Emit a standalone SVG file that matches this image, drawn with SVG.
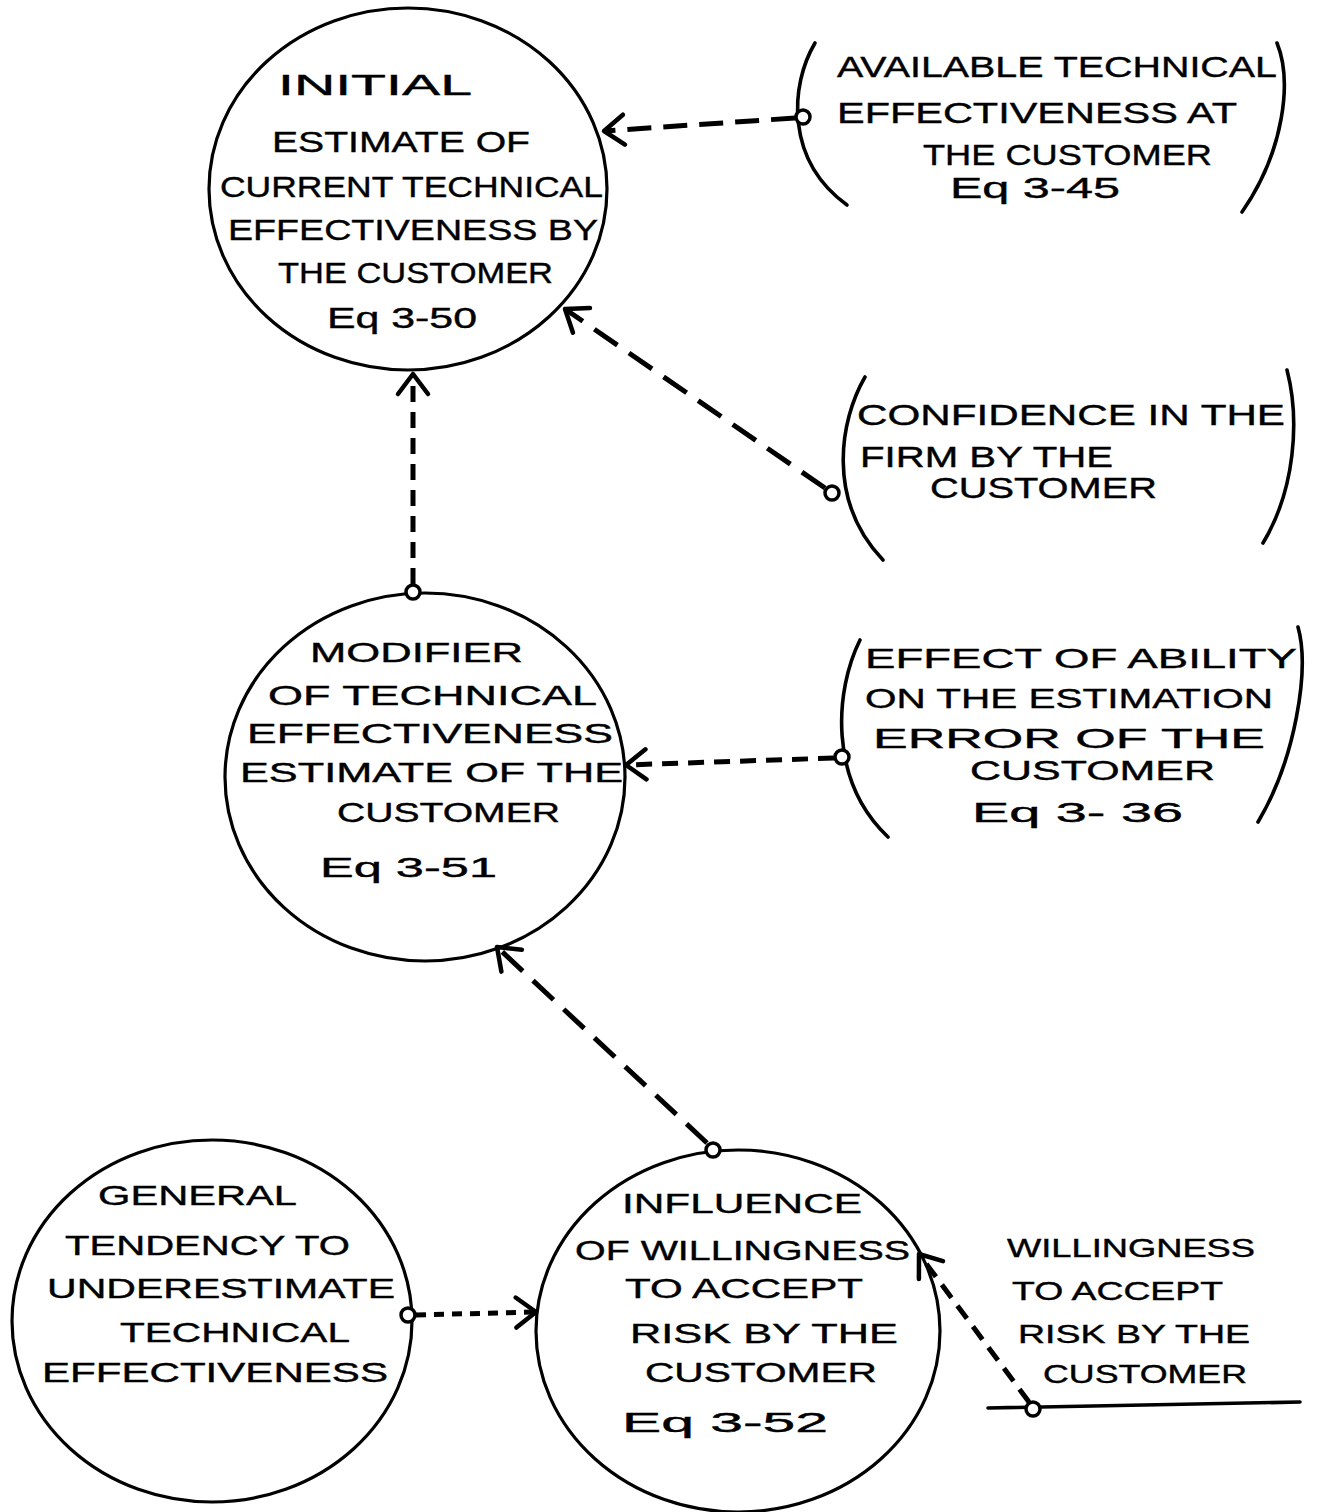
<svg xmlns="http://www.w3.org/2000/svg" width="1318" height="1512" viewBox="0 0 1318 1512">
<style>
.node{fill:none;stroke:#000;stroke-width:3.2}
.br{fill:none;stroke:#000;stroke-width:3.6;stroke-linecap:round}
.t{font-family:"Liberation Sans","DejaVu Sans",Arial,sans-serif;fill:#000;stroke:#000;stroke-width:0.4}
.f30{font-size:30px}
.f28{font-size:28px}
.f25{font-size:25px}
.c{fill:none;stroke:#000;stroke-width:5;stroke-linecap:butt}
.dot{fill:#fff;stroke:#000;stroke-width:3.5}
</style>
<defs>
<marker id="ah" markerUnits="userSpaceOnUse" viewBox="-24 -20 30 40" markerWidth="30" markerHeight="40" refX="0" refY="0" orient="auto" overflow="visible">
<path d="M -20 -15 L 0 0 L -20 15" fill="none" stroke="#000" stroke-width="4.5" stroke-linecap="round" stroke-linejoin="round"/>
</marker>
</defs>

<g id="connectors">
<path class="c" d="M 795 118 L 604 131" stroke-dasharray="24 12" marker-end="url(#ah)"/>
<path class="c" d="M 825 488 L 565 309" stroke-dasharray="28 14" marker-end="url(#ah)"/>
<path class="c" d="M 413 584 L 413 374" stroke-dasharray="16 10" marker-end="url(#ah)"/>
<path class="c" d="M 834 758 L 626 765" stroke-dasharray="16 10" marker-end="url(#ah)"/>
<path class="c" d="M 707 1143 L 497 947" stroke-dasharray="28 14" marker-end="url(#ah)"/>
<path class="c" d="M 416 1315 L 536 1312" stroke-dasharray="10 8" marker-end="url(#ah)"/>
<path class="c" d="M 1029 1402 L 919 1254" stroke-dasharray="16 10" marker-end="url(#ah)"/>
</g>

<g id="n1">
<ellipse class="node" cx="408" cy="189" rx="199" ry="181"/>
<text class="t f30" x="278" y="95" textLength="194" lengthAdjust="spacingAndGlyphs">INITIAL</text>
<text class="t f30" x="272" y="152" textLength="258" lengthAdjust="spacingAndGlyphs">ESTIMATE OF</text>
<text class="t f30" x="220" y="197" textLength="383" lengthAdjust="spacingAndGlyphs">CURRENT TECHNICAL</text>
<text class="t f30" x="228" y="240" textLength="370" lengthAdjust="spacingAndGlyphs">EFFECTIVENESS BY</text>
<text class="t f30" x="278" y="283" textLength="275" lengthAdjust="spacingAndGlyphs">THE CUSTOMER</text>
<text class="t f30" x="327" y="328" textLength="150" lengthAdjust="spacingAndGlyphs">Eq 3-50</text>
</g>

<g id="nA">
<path class="br" d="M 815 43 C 790 85, 785 160, 847 205"/>
<path class="br" d="M 1277 43 C 1292 80, 1285 150, 1242 212"/>
<circle class="dot" cx="803" cy="117" r="7"/>
<text class="t f30" x="837" y="77" textLength="440" lengthAdjust="spacingAndGlyphs">AVAILABLE TECHNICAL</text>
<text class="t f30" x="837" y="123" textLength="400" lengthAdjust="spacingAndGlyphs">EFFECTIVENESS AT</text>
<text class="t f30" x="923" y="165" textLength="289" lengthAdjust="spacingAndGlyphs">THE CUSTOMER</text>
<text class="t f30" x="950" y="198" textLength="170" lengthAdjust="spacingAndGlyphs">Eq 3-45</text>
</g>

<g id="nB">
<path class="br" d="M 865 377 C 840 420, 826 500, 883 560"/>
<path class="br" d="M 1287 370 C 1300 420, 1295 490, 1263 543"/>
<circle class="dot" cx="832" cy="493" r="7"/>
<text class="t f30" x="857" y="425" textLength="428" lengthAdjust="spacingAndGlyphs">CONFIDENCE IN THE</text>
<text class="t f30" x="860" y="467" textLength="253" lengthAdjust="spacingAndGlyphs">FIRM BY THE</text>
<text class="t f30" x="930" y="498" textLength="227" lengthAdjust="spacingAndGlyphs">CUSTOMER</text>
</g>

<g id="n2">
<ellipse class="node" cx="425" cy="777" rx="200" ry="184"/>
<circle class="dot" cx="413" cy="592" r="7"/>
<text class="t f28" x="310" y="662" textLength="213" lengthAdjust="spacingAndGlyphs">MODIFIER</text>
<text class="t f28" x="268" y="705" textLength="329" lengthAdjust="spacingAndGlyphs">OF TECHNICAL</text>
<text class="t f28" x="247" y="743" textLength="366" lengthAdjust="spacingAndGlyphs">EFFECTIVENESS</text>
<text class="t f28" x="240" y="782" textLength="383" lengthAdjust="spacingAndGlyphs">ESTIMATE OF THE</text>
<text class="t f28" x="337" y="822" textLength="223" lengthAdjust="spacingAndGlyphs">CUSTOMER</text>
<text class="t f28" x="320" y="877" textLength="177" lengthAdjust="spacingAndGlyphs">Eq 3-51</text>
</g>

<g id="nC">
<path class="br" d="M 860 640 C 835 690, 828 780, 888 837"/>
<path class="br" d="M 1298 627 C 1310 670, 1295 760, 1258 822"/>
<circle class="dot" cx="842" cy="757" r="7"/>
<text class="t f28" x="865" y="668" textLength="432" lengthAdjust="spacingAndGlyphs">EFFECT OF ABILITY</text>
<text class="t f28" x="865" y="708" textLength="408" lengthAdjust="spacingAndGlyphs">ON THE ESTIMATION</text>
<text class="t f28" x="873" y="748" textLength="392" lengthAdjust="spacingAndGlyphs">ERROR OF THE</text>
<text class="t f28" x="970" y="780" textLength="245" lengthAdjust="spacingAndGlyphs">CUSTOMER</text>
<text class="t f28" x="972" y="822" textLength="211" lengthAdjust="spacingAndGlyphs">Eq 3- 36</text>
</g>

<g id="n3">
<ellipse class="node" cx="212" cy="1321" rx="200" ry="181"/>
<circle class="dot" cx="408" cy="1315" r="7"/>
<text class="t f28" x="98" y="1205" textLength="199" lengthAdjust="spacingAndGlyphs">GENERAL</text>
<text class="t f28" x="65" y="1255" textLength="285" lengthAdjust="spacingAndGlyphs">TENDENCY TO</text>
<text class="t f28" x="47" y="1298" textLength="348" lengthAdjust="spacingAndGlyphs">UNDERESTIMATE</text>
<text class="t f28" x="120" y="1342" textLength="230" lengthAdjust="spacingAndGlyphs">TECHNICAL</text>
<text class="t f28" x="42" y="1382" textLength="346" lengthAdjust="spacingAndGlyphs">EFFECTIVENESS</text>
</g>

<g id="n4">
<ellipse class="node" cx="738" cy="1331" rx="202" ry="181"/>
<circle class="dot" cx="713" cy="1150" r="7"/>
<text class="t f28" x="622" y="1213" textLength="240" lengthAdjust="spacingAndGlyphs">INFLUENCE</text>
<text class="t f28" x="575" y="1260" textLength="335" lengthAdjust="spacingAndGlyphs">OF WILLINGNESS</text>
<text class="t f28" x="625" y="1298" textLength="238" lengthAdjust="spacingAndGlyphs">TO ACCEPT</text>
<text class="t f28" x="630" y="1343" textLength="268" lengthAdjust="spacingAndGlyphs">RISK BY THE</text>
<text class="t f28" x="645" y="1382" textLength="232" lengthAdjust="spacingAndGlyphs">CUSTOMER</text>
<text class="t f28" x="622" y="1432" textLength="206" lengthAdjust="spacingAndGlyphs">Eq 3-52</text>
</g>

<g id="nD">
<path class="br" d="M 988 1408 L 1300 1402"/>
<circle class="dot" cx="1033" cy="1409" r="7"/>
<text class="t f25" x="1007" y="1257" textLength="248" lengthAdjust="spacingAndGlyphs">WILLINGNESS</text>
<text class="t f25" x="1012" y="1300" textLength="211" lengthAdjust="spacingAndGlyphs">TO ACCEPT</text>
<text class="t f25" x="1018" y="1343" textLength="232" lengthAdjust="spacingAndGlyphs">RISK BY THE</text>
<text class="t f25" x="1043" y="1383" textLength="204" lengthAdjust="spacingAndGlyphs">CUSTOMER</text>
</g>
</svg>
